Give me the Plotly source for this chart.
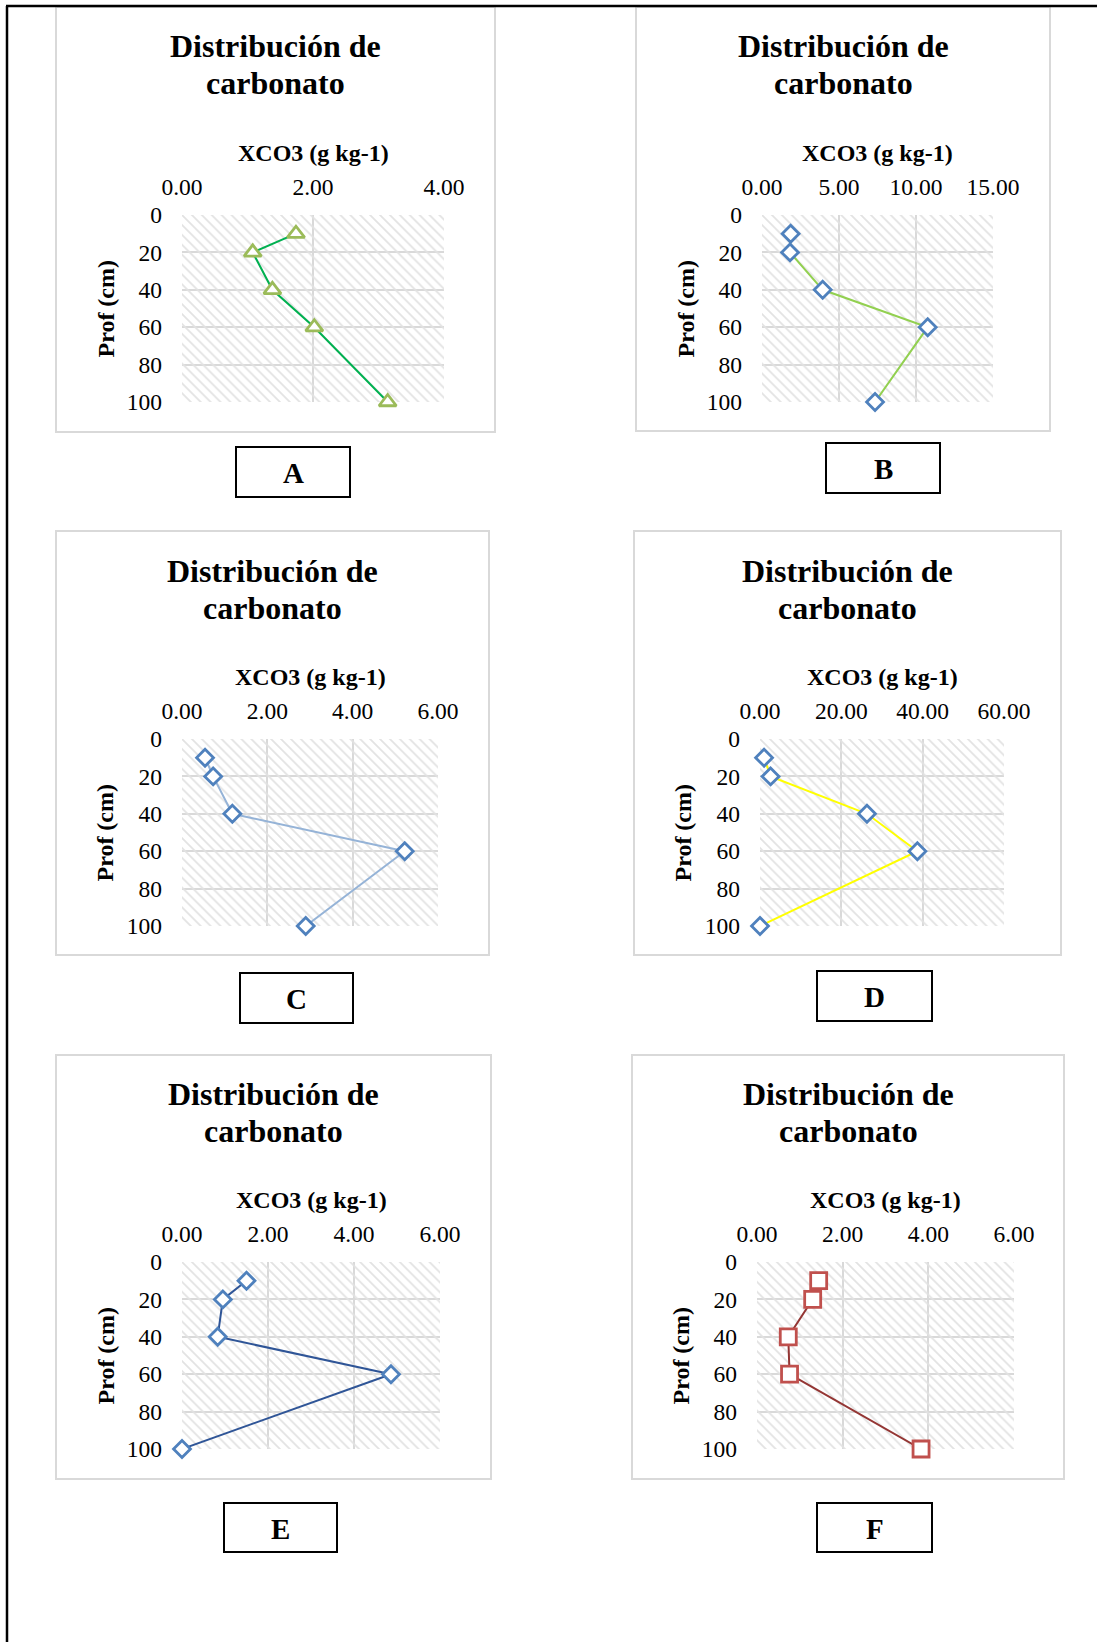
import plotly.graph_objects as go

W, H = 1097, 1642

# ---------------- data ----------------
depth = [10, 20, 40, 60, 100]
xco3_A = [1.74, 1.08, 1.38, 2.02, 3.14]
xco3_B = [1.86, 1.82, 3.94, 10.76, 7.34]
xco3_C = [0.54, 0.73, 1.18, 5.22, 2.90]
xco3_D = [1.0, 2.6, 26.3, 38.7, 0.0]
xco3_E = [1.50, 0.95, 0.83, 4.86, 0.0]
xco3_F = [1.44, 1.30, 0.73, 0.76, 3.83]

panel_labels = ["A", "B", "C", "D", "E", "F"]
x_max = [4, 15, 6, 60, 6, 6]
x_dtick = [2, 5, 2, 20, 2, 2]
y_ticks = [0, 20, 40, 60, 80, 100]
title_lines = ["Distribución de", "carbonato"]
x_title = "XCO3 (g kg-1)"
y_title = "Prof (cm)"

series = [xco3_A, xco3_B, xco3_C, xco3_D, xco3_E, xco3_F]
line_colors = ["#00B050", "#92D050", "#95B3D7", "#FFFF00", "#2F5597", "#943634"]
marker_colors = ["#9BBB59", "#4F81BD", "#4F81BD", "#4F81BD", "#4F81BD", "#C0504D"]
marker_symbols = ["triangle-up", "diamond", "diamond", "diamond", "diamond", "square"]
marker_sizes = [15, 13, 13, 13, 13, 16]

# ---------------- layout geometry (pixels) ----------------
plot_areas = [  # x0, x1, y0, y1
    (182, 444, 215, 402),
    (762, 993, 215, 402),
    (182, 438, 739, 926),
    (760, 1004, 739, 926),
    (182, 440, 1262, 1449),
    (757, 1014, 1262, 1449),
]
chart_boxes = [
    (56, 495, 7, 432),
    (636, 1050, 7, 431),
    (56, 489, 531, 955),
    (634, 1061, 531, 955),
    (56, 491, 1055, 1479),
    (632, 1064, 1055, 1479),
]
title_pos = [(275, 64.5), (843, 64.5), (272, 589), (847, 589), (273, 1112), (848, 1112)]
ytitle_x = [105, 685, 105, 683, 105, 680]
label_boxes = [
    (236, 350, 447, 497),
    (826, 940, 443, 493),
    (240, 353, 973, 1023),
    (817, 932, 971, 1021),
    (224, 337, 1503, 1552),
    (817, 932, 1503, 1552),
]


def px(x):
    return x / W


def py(y):
    return 1 - y / H


FONT = "Liberation Serif, Times New Roman, serif"

fig = go.Figure()
shapes = []
annotations = []

# outer page border (top and left)
shapes.append(dict(type="line", xref="paper", yref="paper", x0=px(6), x1=1, y0=py(6), y1=py(6),
                   line=dict(color="black", width=2.5)))
shapes.append(dict(type="line", xref="paper", yref="paper", x0=px(7), x1=px(7), y0=py(6), y1=0,
                   line=dict(color="black", width=2.5)))

for i in range(6):
    n = "" if i == 0 else str(i + 1)
    xa, ya = "x" + n, "y" + n
    x0, x1, y0, y1 = plot_areas[i]

    # chart box
    bx0, bx1, by0, by1 = chart_boxes[i]
    shapes.append(dict(type="rect", xref="paper", yref="paper", x0=px(bx0), x1=px(bx1),
                       y0=py(by1), y1=py(by0), line=dict(color="#D9D9D9", width=2),
                       fillcolor="rgba(0,0,0,0)", layer="below"))

    # hatched plot-area background
    xm = x_max[i]
    fig.add_trace(go.Scatter(
        x=[0, xm, xm, 0, 0], y=[0, 0, 100, 100, 0], xaxis=xa, yaxis=ya,
        mode="none", fill="toself", fillcolor="rgba(0,0,0,0)",
        fillpattern=dict(shape="\\", fgcolor="#E2E2E2", bgcolor="rgba(0,0,0,0)",
                         size=7, solidity=0.25),
        hoverinfo="skip", showlegend=False))

    # data
    fig.add_trace(go.Scatter(
        x=series[i], y=depth, xaxis=xa, yaxis=ya, mode="lines+markers",
        line=dict(color=line_colors[i], width=2),
        marker=dict(symbol=marker_symbols[i], size=marker_sizes[i], color="white",
                    line=dict(color=marker_colors[i], width=2.8)),
        showlegend=False, cliponaxis=False))

    fig.layout["xaxis" + n] = dict(
        domain=[px(x0), px(x1)], anchor=ya, side="top", range=[0, xm],
        tickmode="linear", tick0=0, dtick=x_dtick[i], tickformat=".2f",
        showgrid=True, gridcolor="#D9D9D9", gridwidth=2, zeroline=False,
        showline=False, ticks="", ticklabelstandoff=14, automargin=False,
        tickfont=dict(family=FONT, size=23.5, color="black"))
    fig.layout["yaxis" + n] = dict(
        domain=[py(y1), py(y0)], anchor=xa, range=[100, 0],
        tickmode="array", tickvals=y_ticks,
        showgrid=True, gridcolor="#D9D9D9", gridwidth=2, zeroline=False,
        showline=False, ticks="", ticklabelstandoff=19, automargin=False,
        tickfont=dict(family=FONT, size=23.5, color="black"))

    # title (two lines)
    tx, ty = title_pos[i]
    for k, line in enumerate(title_lines):
        annotations.append(dict(xref="paper", yref="paper", x=px(tx), y=py(ty - 18.5 + 37 * k),
                                text="<b>" + line + "</b>",
                                showarrow=False, xanchor="center", yanchor="middle",
                                font=dict(family=FONT, size=32, color="black")))
    # x-axis title
    annotations.append(dict(xref="paper", yref="paper", x=px((x0 + x1) / 2), y=py(y0 - 62),
                            text="<b>" + x_title + "</b>", showarrow=False,
                            xanchor="center", yanchor="middle",
                            font=dict(family=FONT, size=24, color="black")))
    # y-axis title
    annotations.append(dict(xref="paper", yref="paper", x=px(ytitle_x[i]), y=py((y0 + y1) / 2),
                            text="<b>" + y_title + "</b>", showarrow=False, textangle=-90,
                            xanchor="center", yanchor="middle",
                            font=dict(family=FONT, size=24, color="black")))
    # panel label box
    lx0, lx1, ly0, ly1 = label_boxes[i]
    shapes.append(dict(type="rect", xref="paper", yref="paper", x0=px(lx0), x1=px(lx1),
                       y0=py(ly1), y1=py(ly0), line=dict(color="black", width=2),
                       fillcolor="white"))
    annotations.append(dict(xref="paper", yref="paper", x=px((lx0 + lx1) / 2), y=py((ly0 + ly1) / 2 + 1),
                            text="<b>" + panel_labels[i] + "</b>", showarrow=False,
                            xanchor="center", yanchor="middle",
                            font=dict(family=FONT, size=29, color="black")))

fig.update_layout(
    template="none",
    width=W, height=H, margin=dict(l=0, r=0, t=0, b=0, pad=0, autoexpand=False),
    paper_bgcolor="white", plot_bgcolor="white",
    shapes=shapes, annotations=annotations, showlegend=False,
)

fig.write_html("out.html", config={"displayModeBar": False})
